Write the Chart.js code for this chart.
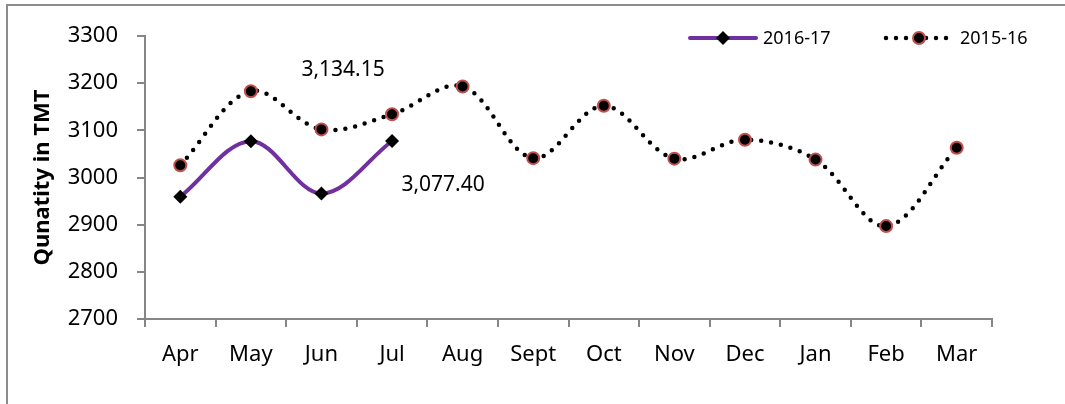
<!DOCTYPE html>
<html>
<head>
<meta charset="utf-8">
<script src="https://cdn.jsdelivr.net/npm/chart.js@4.4.0/dist/chart.umd.min.js"></script>
<style>
    html, body { margin: 0; padding: 0; background: #fff; }
    #wrap { width: 1065px; height: 404px; position: relative; }
</style>
</head>
<body>
<div id="wrap"><canvas id="qtyChart"></canvas></div>
<script>
const months = ['Apr', 'May', 'Jun', 'Jul', 'Aug', 'Sept', 'Oct', 'Nov', 'Dec', 'Jan', 'Feb', 'Mar'];
const qty2016_17 = [2959, 3077, 2966, 3077.40, null, null, null, null, null, null, null, null];
const qty2015_16 = [3026, 3183, 3102, 3134.15, 3193, 3041, 3152, 3040, 3080, 3038, 2897, 3063];
const yTicks = [2700, 2800, 2900, 3000, 3100, 3200, 3300];

const FONT = '"Noto Sans", "Open Sans", sans-serif';
const AXIS_GREY = '#868686';

// Marco, etiquetas de datos y leyenda dibujados a mano
const extrasPlugin = {
    id: 'extras',
    beforeDraw(chart) {
        const ctx = chart.ctx;
        ctx.save();
        ctx.strokeStyle = '#8c8c8c';
        ctx.lineWidth = 2;
        ctx.beginPath();
        ctx.moveTo(7, 404);
        ctx.lineTo(7, 5);
        ctx.lineTo(1065, 5);
        ctx.stroke();
        ctx.restore();
    },
    afterDraw(chart) {
        const ctx = chart.ctx;
        ctx.save();

        // Etiquetas del mes de julio
        const p15 = chart.getDatasetMeta(1).data[3];
        const p16 = chart.getDatasetMeta(0).data[3];
        ctx.fillStyle = '#000';
        ctx.font = '21px ' + FONT;
        ctx.textAlign = 'center';
        ctx.textBaseline = 'middle';
        ctx.fillText(qty2015_16[3].toLocaleString('en-US', { minimumFractionDigits: 2 }), p15.x - 49, p15.y - 44);
        ctx.fillText(qty2016_17[3].toLocaleString('en-US', { minimumFractionDigits: 2 }), p16.x + 51, p16.y + 44);

        // Leyenda
        const ly = 38;
        ctx.lineCap = 'round';
        ctx.strokeStyle = '#7030A0';
        ctx.lineWidth = 4;
        ctx.beginPath();
        ctx.moveTo(690, ly);
        ctx.lineTo(756, ly);
        ctx.stroke();
        ctx.fillStyle = '#000';
        ctx.beginPath();
        ctx.moveTo(723, ly - 7);
        ctx.lineTo(730, ly);
        ctx.lineTo(723, ly + 7);
        ctx.lineTo(716, ly);
        ctx.closePath();
        ctx.fill();

        ctx.strokeStyle = '#000';
        ctx.lineWidth = 4.5;
        ctx.setLineDash([0, 10]);
        ctx.beginPath();
        ctx.moveTo(886, ly);
        ctx.lineTo(950, ly);
        ctx.stroke();
        ctx.setLineDash([]);
        ctx.beginPath();
        ctx.arc(919, ly, 6, 0, Math.PI * 2);
        ctx.fillStyle = '#000';
        ctx.fill();
        ctx.strokeStyle = '#C0504D';
        ctx.lineWidth = 2;
        ctx.stroke();

        ctx.fillStyle = '#000';
        ctx.font = '18px ' + FONT;
        ctx.textAlign = 'left';
        ctx.textBaseline = 'middle';
        ctx.fillText('2016-17', 763, ly + 1);
        ctx.fillText('2015-16', 960, ly + 1);
        ctx.restore();
    }
};

new Chart(document.getElementById('qtyChart'), {
    type: 'line',
    data: {
        labels: months,
        datasets: [{
            label: '2016-17',
            data: qty2016_17,
            borderColor: '#7030A0',
            borderWidth: 4,
            tension: 0.35,
            pointStyle: 'rectRot',
            pointRadius: 7,
            pointBackgroundColor: '#000',
            pointBorderColor: '#000',
            pointBorderWidth: 0,
            spanGaps: false
        }, {
            label: '2015-16',
            data: qty2015_16,
            borderColor: '#000',
            borderWidth: 4.5,
            borderDash: [0, 10],
            borderCapStyle: 'round',
            tension: 0.35,
            pointStyle: 'circle',
            pointRadius: 6,
            pointBackgroundColor: '#000',
            pointBorderColor: '#C0504D',
            pointBorderWidth: 2
        }]
    },
    options: {
        responsive: true,
        maintainAspectRatio: false,
        animation: false,
        devicePixelRatio: 1,
        layout: { padding: { left: 0, right: 73, top: 36, bottom: 0 } },
        plugins: {
            legend: { display: false },
            tooltip: { enabled: false }
        },
        scales: {
            x: {
                offset: true,
                border: { color: AXIS_GREY, width: 2 },
                grid: { offset: true, drawOnChartArea: false, drawTicks: true, tickLength: 8, color: AXIS_GREY, lineWidth: 2 },
                ticks: { color: '#000', font: { family: FONT, size: 22 }, padding: 15, maxRotation: 0, autoSkip: false },
                afterFit(scale) { scale.height = 85; }
            },
            y: {
                min: 2700,
                max: 3300,
                border: { color: AXIS_GREY, width: 2 },
                grid: { drawOnChartArea: false, drawTicks: true, tickLength: 8, color: AXIS_GREY, lineWidth: 2 },
                afterBuildTicks(scale) { scale.ticks = yTicks.map(v => ({ value: v })); },
                ticks: {
                    color: '#000',
                    font: { family: FONT, size: 22 },
                    padding: 19,
                    callback: v => String(v)
                },
                title: {
                    display: true,
                    text: 'Qunatity in TMT',
                    color: '#000',
                    font: { family: FONT, size: 22, weight: 'bold' },
                    padding: { top: 30, bottom: 0 }
                },
                afterFit(scale) { scale.width = 145; }
            }
        }
    },
    plugins: [extrasPlugin]
});
</script>
</body>
</html>
